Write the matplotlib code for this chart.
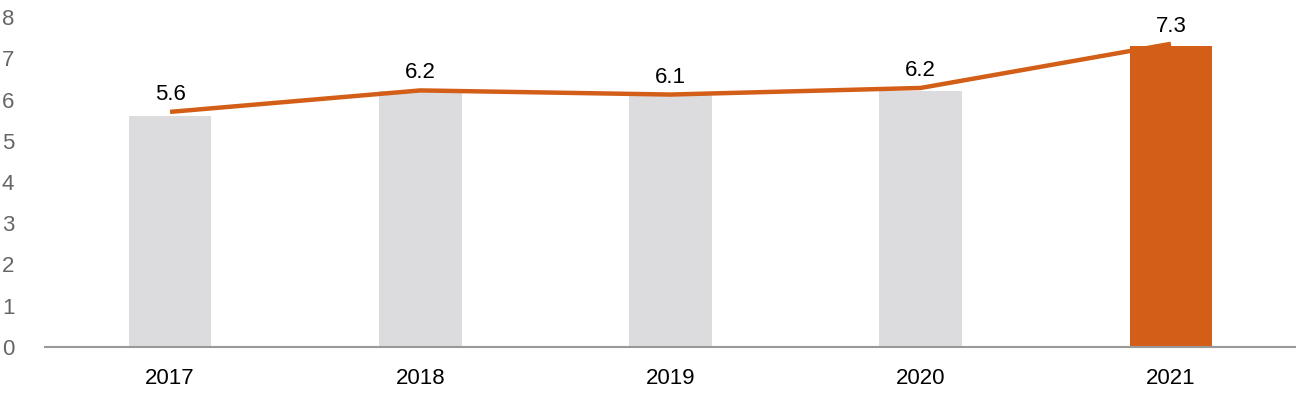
import matplotlib.pyplot as plt

plt.rcParams['font.family'] = ['Liberation Sans', 'DejaVu Sans']

# ====== DATA ======
years = ["2017", "2018", "2019", "2020", "2021"]
bar_values = [5.6, 6.2, 6.1, 6.2, 7.3]
line_values = [5.7, 6.22, 6.12, 6.28, 7.35]
labels = ["5.6", "6.2", "6.1", "6.2", "7.3"]

grey = "#DCDCDE"
orange = "#D35E17"

fig = plt.figure(figsize=(12.96, 4.0), dpi=100)
ax = fig.add_axes([45 / 1296, 53 / 400, 1251 / 1296, 330 / 400])

x = list(range(len(years)))
colors = [grey] * (len(years) - 1) + [orange]
ax.bar(x, bar_values, width=0.33, color=colors, zorder=2)
ax.plot(x, line_values, color=orange, linewidth=3.2, zorder=3, solid_capstyle='butt')

for xi, yi, lab in zip(x, line_values, labels):
    ax.annotate(lab, (xi, yi), xytext=(0, 5), textcoords="offset points",
                ha="center", va="bottom", fontsize=16, color="black")

ax.set_xlim(-0.5, 4.5)
ax.set_ylim(0, 8)
ax.set_xticks(x)
ax.set_xticklabels(years, fontsize=16, color="black")
ax.set_yticks(range(0, 9))
ax.tick_params(axis='y', length=0, labelsize=16, labelcolor="#666666")
ax.tick_params(axis='x', length=0, pad=15)
for lab in ax.get_yticklabels():
    lab.set_horizontalalignment('left')
ax.yaxis.set_tick_params(pad=31)

for s in ["top", "right", "left"]:
    ax.spines[s].set_visible(False)
ax.spines["bottom"].set_color("#999999")
ax.spines["bottom"].set_linewidth(1.5)

fig.savefig("out.png", dpi=100)
